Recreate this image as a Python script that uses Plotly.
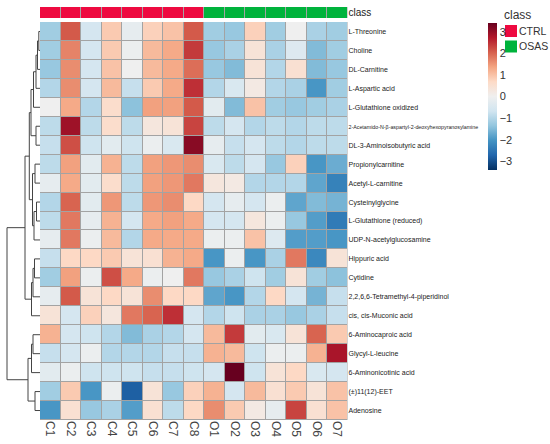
import plotly.graph_objects as go

# ---- data -------------------------------------------------------------
SAMPLES = ["C1", "C2", "C3", "C4", "C5", "C6", "C7", "C8",
           "O1", "O2", "O3", "O4", "O5", "O6", "O7"]
GROUPS = ["CTRL", "OSAS"]
SAMPLE_GROUP = ["CTRL"] * 8 + ["OSAS"] * 7

METABOLITES = [
    "L-Threonine", "Choline", "DL-Carnitine", "L-Aspartic acid",
    "L-Glutathione oxidized",
    "2-Acetamido-N-β-aspartyl-2-deoxyhexopyranosylamine",
    "DL-3-Aminoisobutyric acid", "Propionylcarnitine", "Acetyl-L-carnitine",
    "Cysteinylglycine", "L-Glutathione (reduced)", "UDP-N-acetylglucosamine",
    "Hippuric acid", "Cytidine", "2,2,6,6-Tetramethyl-4-piperidinol",
    "cis, cis-Muconic acid", "6-Aminocaproic acid", "Glycyl-L-leucine",
    "6-Aminonicotinic acid", "(±)11(12)-EET", "Adenosine",
]

# scaled intensities, one row per metabolite (C1..C8, O1..O7)
Z = [
    [-1.2, 2.1, -0.6, 0.9, -0.2, 0.8, 1.0, 2.1, -1.2, -1.3, 0.8, -1.2, 0.0, -1.1, -1.2],
    [-1.2, 1.7, -0.6, 0.9, -0.1, 1.1, 1.3, 2.4, -1.3, -1.1, 0.4, -1.1, -0.4, -1.5, -1.2],
    [-1.3, 1.6, -0.6, 1.0, 0.0, 1.1, 1.3, 1.9, -1.3, -1.5, 0.4, -1.0, 0.5, -1.5, -1.3],
    [-1.0, 1.6, -0.6, 1.1, -0.8, 0.9, 1.3, 2.5, -1.0, -0.5, 0.2, -1.0, -1.1, -2.0, -1.2],
    [0.0, 1.3, -1.0, 0.6, -1.4, 1.4, 1.4, 2.1, -0.3, -1.5, 1.0, -1.2, -1.3, -1.2, -1.1],
    [-0.9, 2.9, -0.9, 0.6, -0.9, 0.3, 0.4, 2.3, -0.9, -0.6, -1.0, -0.9, -1.0, -0.9, -0.9],
    [-0.8, 2.2, -0.7, -0.3, -0.7, -0.1, -0.5, 3.1, -0.2, -0.8, -0.6, -0.9, -1.0, -0.9, -0.9],
    [-0.9, 1.4, -0.3, 1.2, -0.9, 1.4, 1.5, 1.6, -0.5, -0.9, -0.6, -1.3, 0.8, -2.0, -1.7],
    [-0.2, 1.3, -0.3, 0.6, -0.9, 1.4, 1.5, 1.8, 0.3, 0.2, -1.0, -1.0, -1.0, -1.8, -2.3],
    [-1.0, 2.0, -0.3, 1.5, -0.9, 1.5, 1.6, 0.7, -0.6, -0.2, -0.6, -0.1, -1.8, -1.5, -1.6],
    [-0.9, 1.8, -0.2, 1.2, -0.6, 1.3, 1.4, 1.3, -0.6, -0.6, 0.3, -0.1, -1.3, -1.9, -2.4],
    [-0.2, 1.8, -0.1, 1.1, -1.0, 1.3, 1.3, 1.3, -0.1, -0.1, 1.0, -0.4, -1.9, -1.9, -2.0],
    [-0.8, 0.7, 0.7, 0.9, 0.4, 0.5, 1.2, 1.3, -2.0, -0.1, -2.0, -1.1, 1.8, -2.2, 0.4],
    [-1.2, 1.4, -0.1, 2.2, 1.3, -0.1, 0.0, 1.8, -1.3, -1.1, -0.7, -1.2, 0.4, -1.2, -1.4],
    [-0.2, 2.1, 0.4, 0.7, 0.4, 1.6, 0.7, 0.7, -1.8, -2.0, -1.0, 0.7, -0.6, -1.6, -0.8],
    [0.4, -0.6, 0.8, 0.3, 1.8, 2.0, 2.5, -0.6, -1.0, -0.7, -1.1, -1.1, -1.3, -1.1, -0.8],
    [1.2, -0.6, -0.7, -1.0, -1.5, -1.1, -1.0, -0.6, 1.1, 2.4, -0.3, -0.5, 0.4, 2.0, 0.9],
    [-0.8, -0.6, -0.1, -1.0, -1.0, -1.0, -0.8, -0.8, 1.2, 1.1, -0.7, -0.1, -0.1, 1.2, 2.8],
    [-0.3, -0.1, -0.7, -0.7, -0.7, -0.8, -0.8, -0.7, -0.6, 3.4, -0.7, 0.4, 0.7, -0.5, -0.6],
    [-1.2, 0.9, -2.0, -0.1, -2.8, 0.4, -1.3, 0.8, 1.2, -0.6, 1.1, 0.5, 0.9, 0.4, 1.0],
    [-2.0, 0.5, -1.3, -1.1, -1.9, 0.5, -0.9, 0.7, 1.6, 0.9, 0.2, -0.2, 2.3, 0.5, 1.0],
]

# row clustering: (child a, child b, height); ids < 21 are rows, 21+k is merge k
MERGES = [
    (0, 1, 1.2), (21, 2, 2.5), (22, 3, 4.0), (23, 4, 6.5), (5, 6, 4.0),
    (24, 25, 9.0), (7, 8, 5.0), (9, 10, 3.5), (28, 11, 6.0), (27, 29, 7.5),
    (26, 30, 10.7), (12, 13, 5.5), (32, 14, 7.0), (33, 15, 8.5), (31, 34, 15.0),
    (16, 17, 7.0), (36, 18, 8.5), (19, 20, 5.0), (37, 38, 12.0), (35, 39, 33.0),
]

CLASS_COLORS = {"CTRL": "#EE0A40", "OSAS": "#00B33C"}
RDBU_R = ["#053061", "#2166ac", "#4393c3", "#92c5de", "#d1e5f0", "#efefef",
          "#fddbc7", "#f4a582", "#d6604d", "#b2182b", "#67001f"]

FONT = "Liberation Sans, Arial, sans-serif"

# ---- geometry (px -> paper) ----------------------------------------------
W, H = 550, 444
x_hm = [40 / W, 347.5 / W]
y_hm = [(H - 420) / H, (H - 22) / H]
y_cls = [(H - 18) / H, (H - 7) / H]

fig = go.Figure()

# dendrogram
n = len(METABOLITES)
pos = {i: (0.0, float(i)) for i in range(n)}  # id -> (height, y)
dx, dy = [], []
for k, (a, b, h) in enumerate(MERGES):
    ha, ya = pos[a]
    hb, yb = pos[b]
    dx += [ha, h, h, hb, None]
    dy += [ya, ya, yb, yb, None]
    pos[n + k] = (h, (ya + yb) / 2)
fig.add_trace(go.Scatter(x=dx, y=dy, mode="lines", xaxis="x3", yaxis="y",
                         line=dict(color="#444", width=1), hoverinfo="skip",
                         showlegend=False))

# main heatmap
fig.add_trace(go.Heatmap(
    z=Z, x=list(range(len(SAMPLES))), y=list(range(n)),
    colorscale=[[i / (len(RDBU_R) - 1), c] for i, c in enumerate(RDBU_R)],
    zmin=-3.4, zmax=3.4, xgap=1, ygap=1, hoverinfo="skip",
    colorbar=dict(x=478 / W, xanchor="left", y=(H - 13) / H, yanchor="top",
                  len=167 / H, lenmode="fraction", thickness=9, outlinewidth=0,
                  tickvals=[-3, -2, -1, 0, 1, 2, 3], ticks="",
                  tickfont=dict(size=11, color="#333"))))

# class annotation bar
cls_idx = [GROUPS.index(g) for g in SAMPLE_GROUP]
fig.add_trace(go.Heatmap(
    z=[cls_idx], x=list(range(len(SAMPLES))), y=[0], xaxis="x2", yaxis="y2",
    colorscale=[[0, CLASS_COLORS["CTRL"]], [0.5, CLASS_COLORS["CTRL"]],
                [0.5, CLASS_COLORS["OSAS"]], [1, CLASS_COLORS["OSAS"]]],
    zmin=0, zmax=1, xgap=1, showscale=False, hoverinfo="skip"))

# cell borders = grey backdrop behind gapped heatmaps
for xr, yr in [("x domain", "y domain"), ("x2 domain", "y2 domain")]:
    fig.add_shape(type="rect", xref=xr, yref=yr, x0=0, x1=1, y0=0, y1=1,
                  fillcolor="#a3a3a3", line_width=0, layer="below")

# class legend (drawn by hand, plotly's own legend is too wide here)
fig.add_annotation(text="class", x=502 / W, y=(H - 15) / H, xref="paper",
                   yref="paper", xanchor="left", yanchor="middle",
                   showarrow=False, font=dict(size=12, color="#333"))
for i, g in enumerate(GROUPS):
    top = 25 + i * 15.5
    fig.add_shape(type="rect", xref="paper", yref="paper",
                  x0=505 / W, x1=517 / W, y0=(H - top - 12) / H, y1=(H - top) / H,
                  fillcolor=CLASS_COLORS[g], line_width=0)
    fig.add_annotation(text=g, x=517 / W, y=(H - top - 6) / H, xref="paper",
                       yref="paper", xanchor="left", yanchor="middle",
                       showarrow=False, font=dict(size=10.5, color="#333"))

labels = [f'<span style="font-size:5.3px">{m}</span>' if len(m) > 40 else m
          for m in METABOLITES]

fig.update_layout(
    width=W, height=H, margin=dict(l=0, r=0, t=0, b=0), showlegend=False,
    paper_bgcolor="white", plot_bgcolor="white",
    font=dict(family=FONT, color="#333"),
    xaxis=dict(domain=x_hm, anchor="y", range=[-0.5, 14.5],
               tickvals=list(range(len(SAMPLES))), ticktext=SAMPLES,
               tickangle=90, tickfont=dict(size=12, color="#444"),
               showgrid=False, zeroline=False, ticks=""),
    yaxis=dict(domain=y_hm, anchor="x", range=[n - 0.5, -0.5], side="right",
               tickvals=list(range(n)), ticktext=labels, ticks="",
               tickfont=dict(size=7, color="#222"),
               showgrid=False, zeroline=False),
    xaxis2=dict(domain=x_hm, anchor="y2", matches="x", showticklabels=False,
                showgrid=False, zeroline=False),
    yaxis2=dict(domain=y_cls, anchor="x2", range=[-0.5, 0.5], side="right",
                tickvals=[0], ticktext=["class"], ticks="",
                tickfont=dict(size=10, color="#222"),
                showgrid=False, zeroline=False),
    xaxis3=dict(domain=[0, x_hm[0]], anchor="y", range=[40, 0], visible=False),
)

# drop the browser's default 8px page margin so the figure fills the window
fig.write_html("out.html", config={"displayModeBar": False},
               post_script="document.body.style.margin='0';")
